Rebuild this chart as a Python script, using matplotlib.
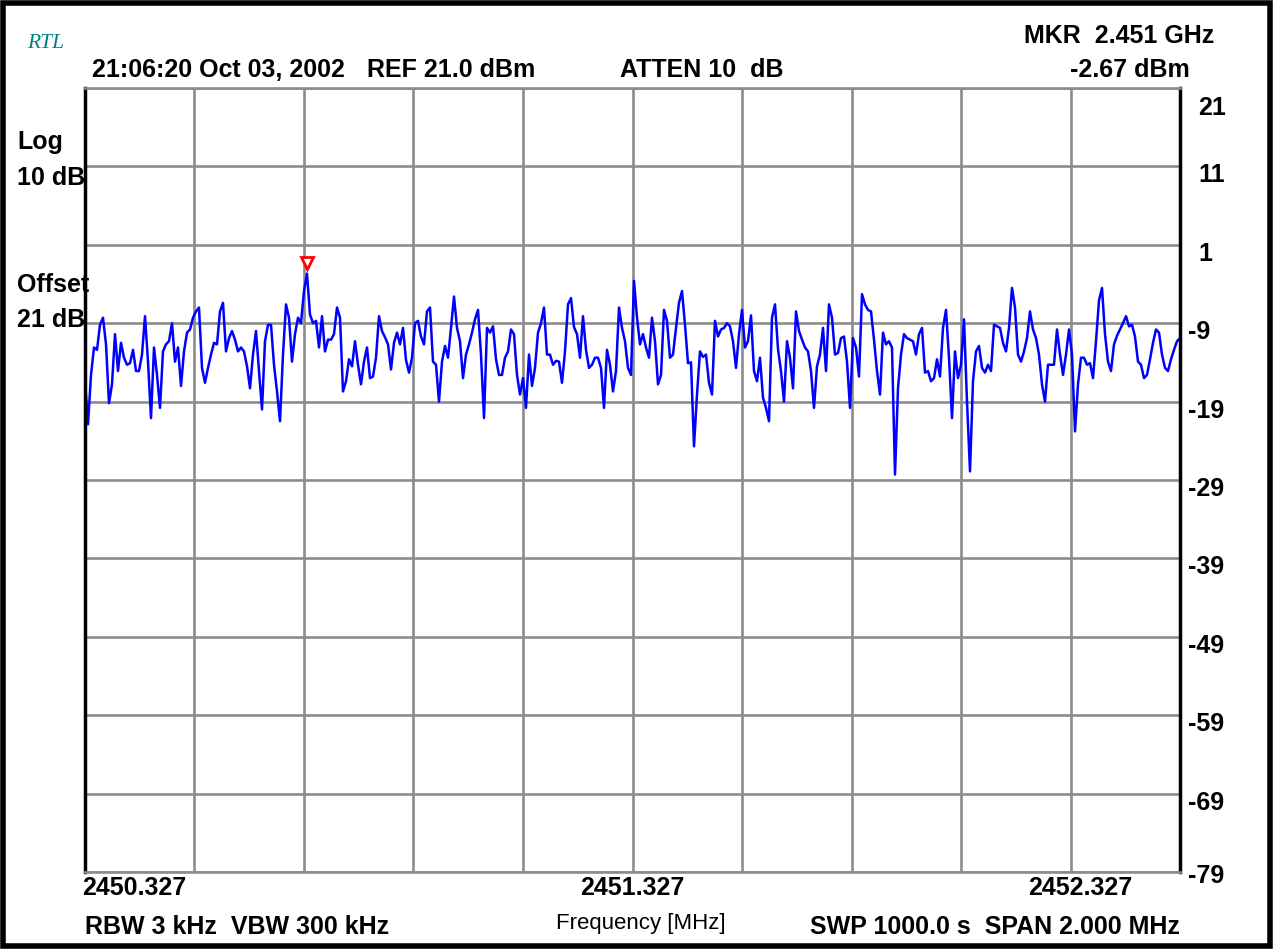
"""
Spectrum analyser screenshot: noise floor around 2.451 GHz
------------------------------------------------------------
Redraws the trace and the instrument annotations.
"""

import numpy as np
import matplotlib.pyplot as plt
from matplotlib.patches import Rectangle

# Trace levels (dBm) from left to right
level_dbm = [
    -16.4, -21.9, -15.6, -12.1, -12.4, -9.2, -8.3, -11.7, -19.2, -16.8, -10.4,
    -15.1, -11.5, -13.4, -14.3, -14.1, -12.4, -15.1, -15.1, -13.0, -8.1, -13.9,
    -21.1, -12.1, -15.6, -19.8, -12.6, -11.7, -11.3, -9.0, -13.9,
    -12.1, -17.0, -12.6, -10.2, -9.8, -8.3, -7.5, -7.0, -14.7, -16.6, -14.7,
    -13.0, -11.5, -11.7, -7.5, -6.4, -12.6, -10.9, -10.0, -11.1, -12.6, -12.1,
    -12.6, -14.5, -17.3, -13.0, -10.0, -15.1, -20.0, -11.3, -9.2,
    -9.2, -14.3, -17.7, -21.5, -13.0, -6.6, -8.3, -13.9, -10.4, -8.3, -9.0,
    -4.9, -2.67, -7.9, -9.0, -8.7, -12.1, -8.1, -12.6, -11.1, -11.1, -10.4,
    -7.0, -8.3, -17.7, -16.4, -13.6, -14.5, -11.3, -14.3, -16.8,
    -13.9, -12.1, -16.0, -15.8, -13.4, -8.1, -10.0, -10.8, -11.7, -14.9, -11.5,
    -10.2, -11.7, -9.6, -13.7, -15.3, -13.4, -9.0, -8.7, -10.7, -11.7, -7.5,
    -7.0, -13.9, -14.3, -19.0, -13.9, -11.9, -13.4, -9.6, -5.6,
    -9.6, -11.3, -16.0, -13.0, -11.7, -10.2, -8.5, -7.3, -13.0, -21.1, -9.6,
    -10.2, -9.4, -13.6, -15.6, -15.6, -13.4, -12.6, -9.8, -10.4, -15.6, -18.1,
    -16.0, -19.8, -13.0, -17.0, -14.7, -10.2, -9.0, -7.0, -13.0,
    -13.0, -14.3, -13.8, -13.9, -16.6, -12.6, -6.6, -5.8, -9.5, -10.4, -13.4,
    -8.1, -12.4, -14.7, -14.3, -13.4, -13.4, -14.7, -19.8, -12.4, -14.3, -17.7,
    -15.1, -7.0, -9.6, -11.3, -14.7, -15.6, -3.6, -8.3, -11.7,
    -10.4, -12.1, -13.4, -8.3, -11.3, -16.8, -15.6, -7.3, -8.7, -13.4, -13.0,
    -9.6, -6.4, -4.9, -9.2, -14.1, -14.0, -24.7, -18.1, -12.6, -13.3, -13.0,
    -16.6, -18.1, -8.7, -10.7, -9.8, -9.6, -9.0, -9.4, -11.3,
    -14.7, -10.4, -7.3, -12.1, -11.3, -8.0, -15.1, -16.4, -13.4, -18.5, -19.8,
    -21.5, -8.3, -6.6, -12.3, -15.1, -19.0, -11.3, -13.4, -17.3, -7.5, -10.0,
    -11.1, -12.1, -12.6, -15.1, -19.8, -14.5, -13.0, -9.6, -15.1,
    -6.6, -8.3, -13.0, -12.8, -10.9, -10.7, -13.9, -19.8, -10.9, -12.1, -15.8,
    -5.3, -6.6, -7.3, -7.5, -11.1, -15.1, -18.1, -10.2, -11.7, -11.3, -12.1,
    -28.3, -17.3, -13.0, -10.4, -10.9, -11.1, -11.3, -13.0, -10.4,
    -9.6, -15.3, -15.1, -16.4, -16.0, -13.6, -15.8, -9.6, -7.3, -13.4, -21.1,
    -12.6, -16.0, -14.3, -8.5, -19.0, -27.9, -16.4, -12.6, -11.9, -14.7, -15.3,
    -14.3, -15.1, -9.2, -9.4, -9.6, -11.5, -12.6, -9.6, -4.5,
    -7.0, -13.0, -13.9, -12.6, -10.9, -7.5, -9.8, -10.9, -13.0, -16.8, -19.0,
    -14.3, -14.3, -14.3, -9.8, -13.0, -15.6, -13.0, -9.8, -13.0, -22.8, -16.8,
    -13.4, -13.4, -14.3, -14.1, -16.0, -11.3, -6.1, -4.5, -10.4,
    -13.9, -15.1, -11.7, -10.6, -9.8, -9.0, -8.1, -9.4, -9.2, -10.7, -13.9,
    -14.3, -16.0, -15.6, -13.6, -11.5, -9.8, -10.2, -13.0, -14.7, -15.1, -13.6,
    -12.4, -11.3, -10.9,
]

f_start = 2450.327   # MHz
f_stop = 2452.327    # MHz
ref_level = 21       # dBm, top of screen
db_per_div = 10
y_tick_labels = ['21', '11', '1', '-9', '-19', '-29', '-39', '-49', '-59', '-69', '-79']
x_tick_labels = ['2450.327', '2451.327', '2452.327']

freq = np.linspace(f_start, f_stop, len(level_dbm))
level = np.array(level_dbm)

W, H = 1275, 949
fig = plt.figure(figsize=(W / 100, H / 100), dpi=100)
plt.rcParams['font.family'] = ['Liberation Sans', 'DejaVu Sans']


def px(x, y):
    # pixel position on the screenshot -> figure fraction
    return x / W, 1 - y / H


ax = fig.add_axes([85 / W, 1 - 872 / H, 1095 / W, 784 / H])
ax.plot(freq, level, color='#0000ff', linewidth=1.8)

# marker triangle just above the highest point
i_pk = int(np.argmax(level))
ax.plot(freq[i_pk], level[i_pk] + 1.3, marker='v', markersize=9,
        markerfacecolor='white', markeredgecolor='#ff0000', markeredgewidth=2)

ax.set_xlim(f_start, f_stop)
ax.set_ylim(ref_level - 10 * db_per_div, ref_level)
ax.set_xticks(np.linspace(f_start, f_stop, 11))
ax.set_yticks(np.arange(ref_level - 10 * db_per_div, ref_level + 1, db_per_div))
ax.tick_params(length=0, labelbottom=False, labelleft=False)
ax.grid(True, color='#8c8c8c', linewidth=1.9)
ax.set_axisbelow(True)
for side in ['left', 'right']:
    ax.spines[side].set_color('black')
    ax.spines[side].set_linewidth(2.5)
for side in ['top', 'bottom']:
    ax.spines[side].set_color('#8c8c8c')
    ax.spines[side].set_linewidth(1.9)

fs = 18

# right-hand level labels (drawn a little below each grid line)
for k, lab in enumerate(y_tick_labels):
    val = ref_level - k * db_per_div
    dy = -20 if k == 0 else (-4 if k == len(y_tick_labels) - 1 else -9)
    x0 = 1188 if lab.startswith('-') else 1198
    ax.annotate(lab, xy=(1, val), xycoords=('axes fraction', 'data'),
                xytext=(x0 - 1180, dy), textcoords='offset pixels',
                ha='left', va='center', fontsize=fs, fontweight='bold')

# frequency labels under the screen
fig.text(*px(82, 888), x_tick_labels[0], ha='left', va='center', fontsize=fs, fontweight='bold')
fig.text(*px(632, 888), x_tick_labels[1], ha='center', va='center', fontsize=fs, fontweight='bold')
fig.text(*px(1080, 888), x_tick_labels[2], ha='center', va='center', fontsize=fs, fontweight='bold')

# header
fig.text(*px(27, 44), 'RTL', ha='left', va='center', fontsize=15.5, color='#008080',
         family='Liberation Serif', style='italic')
fig.text(*px(92, 70), '21:06:20 Oct 03, 2002', ha='left', va='center', fontsize=fs, fontweight='bold')
fig.text(*px(367, 70), 'REF 21.0 dBm', ha='left', va='center', fontsize=fs, fontweight='bold')
fig.text(*px(620, 70), 'ATTEN 10  dB', ha='left', va='center', fontsize=fs, fontweight='bold')
fig.text(*px(1214, 36), 'MKR  2.451 GHz', ha='right', va='center', fontsize=fs, fontweight='bold')
fig.text(*px(1190, 70), '-2.67 dBm', ha='right', va='center', fontsize=fs, fontweight='bold')

# left side annotations
fig.text(*px(17, 142), 'Log', ha='left', va='center', fontsize=fs, fontweight='bold')
fig.text(*px(17, 178), '10 dB', ha='left', va='center', fontsize=fs, fontweight='bold')
fig.text(*px(17, 285), 'Offset', ha='left', va='center', fontsize=fs, fontweight='bold')
fig.text(*px(17, 320), '21 dB', ha='left', va='center', fontsize=fs, fontweight='bold')

# footer
fig.text(*px(85, 927), 'RBW 3 kHz  VBW 300 kHz', ha='left', va='center', fontsize=fs, fontweight='bold')
fig.text(*px(641, 923), 'Frequency [MHz]', ha='center', va='center', fontsize=16)
fig.text(*px(1180, 927), 'SWP 1000.0 s  SPAN 2.000 MHz', ha='right', va='center', fontsize=fs, fontweight='bold')

# black frame round the whole screen
fig.patches.append(Rectangle((0.002, 0.003), 0.994, 0.994, transform=fig.transFigure,
                             fill=False, edgecolor='black', linewidth=4))

fig.savefig('out.png', dpi=100, facecolor='white')
